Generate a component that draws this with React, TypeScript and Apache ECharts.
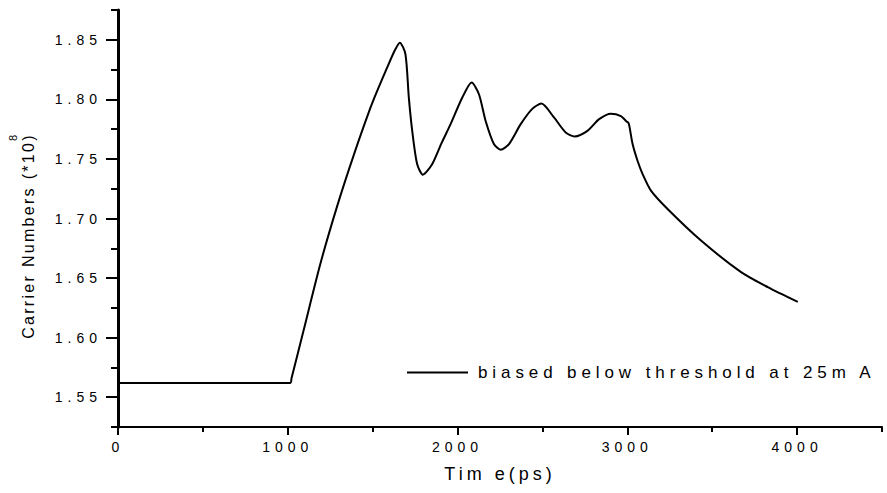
import React, { useEffect, useRef } from "react";
import * as echarts from "echarts";

const timePs = [
  0, 1015, 1022, 1093, 1192, 1290, 1388, 1487, 1526, 1585, 1630, 1660, 1693, 1713, 1733, 1762,
  1796, 1851, 1905, 1959, 2028, 2083, 2126, 2165, 2214, 2254, 2303, 2372, 2440, 2494, 2568,
  2637, 2690, 2765, 2834, 2903, 2962, 2995, 3005, 3012, 3031, 3060, 3090, 3139, 3237, 3434,
  3670, 3827, 4004,
];
const carriers = [
  1.562, 1.562, 1.5659, 1.606, 1.662, 1.71, 1.753, 1.793, 1.807, 1.8266, 1.841, 1.8476, 1.838,
  1.8015, 1.7736, 1.7457, 1.7368, 1.7457, 1.763, 1.7792, 1.8015, 1.8141, 1.8043, 1.782, 1.7625,
  1.7577, 1.7625, 1.7792, 1.792, 1.7965, 1.7848, 1.7722, 1.7689, 1.7736, 1.7834, 1.788, 1.786,
  1.7815, 1.7806, 1.7775, 1.7625, 1.7485, 1.7373, 1.7234, 1.708, 1.6815, 1.655, 1.6424, 1.63,
];
const seriesName = "biased below threshold at 25m A";
const yMajorTicks = [1.55, 1.6, 1.65, 1.7, 1.75, 1.8, 1.85];
const yMinorTicks = [1.525, 1.575, 1.625, 1.675, 1.725, 1.775, 1.825, 1.875];
const xMajorTicks = [0, 1000, 2000, 3000, 4000];
const xMinorTicks = [500, 1500, 2500, 3500, 4500];
const xTitle = "Tim e(ps)";
const yTitle = "Carrier Numbers (*10)";
const yTitleSup = "8";

const FONT = "'Liberation Sans', Arial, sans-serif";

export default function App() {
  const ref = useRef<HTMLDivElement>(null);
  useEffect(() => {
    if (!ref.current) return;
    const chart = echarts.init(ref.current, undefined, { renderer: "svg" });
    const data = timePs.map((t, i) => [t, carriers[i]]);
    const axisBase = {
      type: "value" as const,
      splitLine: { show: false },
    };
    chart.setOption({
      animation: false,
      backgroundColor: "#fff",
      grid: { left: 118, right: 5, top: 10, bottom: 66, containLabel: false },
      xAxis: [
        {
          ...axisBase,
          min: 0,
          max: 4500,
          position: "bottom",
          axisLine: { show: true, onZero: false, lineStyle: { color: "#000", width: 2 } },
          axisTick: { show: true, customValues: xMajorTicks, length: 8, lineStyle: { color: "#000", width: 2 } },
          axisLabel: {
            customValues: xMajorTicks,
            formatter: (v: number) => String(v),
            margin: 13,
            color: "#000",
            fontSize: 14,
            fontFamily: FONT,
          },
          name: xTitle,
          nameLocation: "middle",
          nameGap: 38,
          nameTextStyle: { color: "#000", fontSize: 18, fontFamily: FONT },
        },
        {
          ...axisBase,
          min: 0,
          max: 4500,
          position: "bottom",
          axisLine: { show: false, onZero: false },
          axisTick: { show: true, customValues: xMinorTicks, length: 5, lineStyle: { color: "#000", width: 2 } },
          axisLabel: { show: false },
        },
      ],
      yAxis: [
        {
          ...axisBase,
          min: 1.525,
          max: 1.875,
          position: "left",
          axisLine: { show: true, onZero: false, lineStyle: { color: "#000", width: 3 } },
          axisTick: { show: true, customValues: yMajorTicks, length: 12, lineStyle: { color: "#000", width: 2 } },
          axisLabel: {
            customValues: yMajorTicks,
            formatter: (v: number) => v.toFixed(2),
            margin: 16,
            color: "#000",
            fontSize: 14,
            fontFamily: FONT,
          },
        },
        {
          ...axisBase,
          min: 1.525,
          max: 1.875,
          position: "left",
          axisLine: { show: false, onZero: false },
          axisTick: { show: true, customValues: yMinorTicks, length: 7, lineStyle: { color: "#000", width: 2 } },
          axisLabel: { show: false },
        },
      ],
      legend: {
        data: [{ name: seriesName, icon: "path://M0,0H61V2H0Z" }],
        left: 402,
        top: 359,
        itemWidth: 61,
        itemHeight: 2,
        selectedMode: false,
        textStyle: { color: "#000", fontSize: 17, fontFamily: FONT, padding: [0, 0, 0, 5] },
      },
      graphic: [
        {
          type: "text",
          x: 28,
          y: 236,
          rotation: Math.PI / 2,
          style: {
            text: yTitle,
            font: `16px ${FONT}`,
            fill: "#000",
            textAlign: "center",
            textVerticalAlign: "middle",
          },
        },
        {
          type: "text",
          x: 13,
          y: 138,
          rotation: Math.PI / 2,
          style: {
            text: yTitleSup,
            font: `11px ${FONT}`,
            fill: "#000",
            textAlign: "center",
            textVerticalAlign: "middle",
          },
        },
      ],
      series: [
        {
          name: seriesName,
          type: "line",
          xAxisIndex: 0,
          yAxisIndex: 0,
          data,
          symbol: "none",
          showSymbol: false,
          smooth: 0.25,
          lineStyle: { color: "#000", width: 2 },
          itemStyle: { color: "#000" },
          silent: true,
        },
      ],
    });

    const applySpacing = () => {
      const el = ref.current;
      if (!el) return;
      el.querySelectorAll("text").forEach((t) => {
        const s = (t.textContent || "").trim();
        let sp = 0;
        if (/^\d+(\.\d+)?$/.test(s) && s !== yTitleSup) sp = 5;
        else if (s === seriesName) sp = 4.9;
        else if (s === xTitle) sp = 4;
        else if (s === yTitle) sp = 2.3;
        if (sp) t.setAttribute("letter-spacing", String(sp));
      });
    };
    applySpacing();
    chart.on("finished", applySpacing);

    return () => {
      chart.dispose();
    };
  }, []);
  return (
    <div
      ref={ref}
      style={{ position: "fixed", left: 0, top: 0, width: 887, height: 493, background: "#fff" }}
    />
  );
}
